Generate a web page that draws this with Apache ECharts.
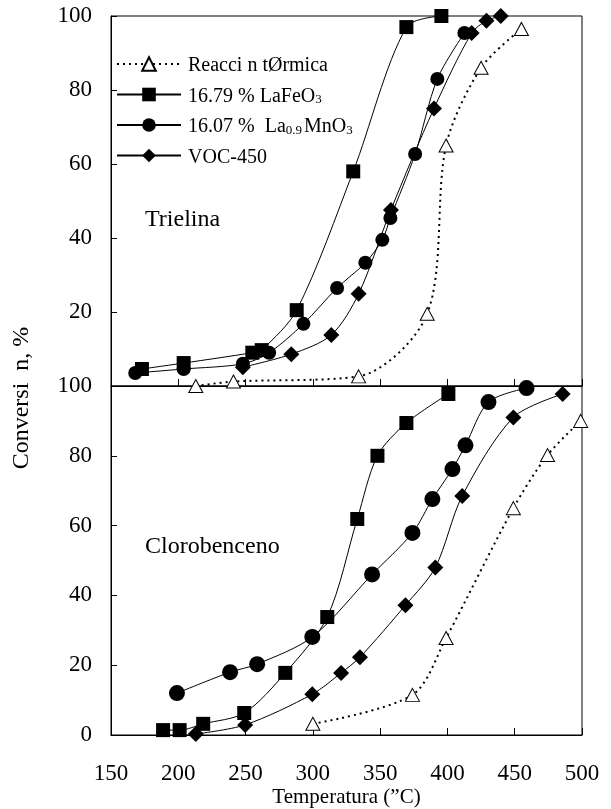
<!DOCTYPE html>
<html><head><meta charset="utf-8">
<script src="https://cdn.jsdelivr.net/npm/echarts@6/dist/echarts.min.js"></script>
<style>html,body{margin:0;padding:0;background:#fff}#c{width:611px;height:809px}</style>
</head><body><div id="c"></div><script>
// Axis ticks
const xTicks = [150, 200, 250, 300, 350, 400, 450, 500];
const yTicks = [0, 20, 40, 60, 80, 100];
const seriesNames = ['Reacci n tØrmica', '16.79 % LaFeO3', '16.07 % La0.9MnO3', 'VOC-450'];
const panelLabels = ['Trielina', 'Clorobenceno'];
const yTitle = 'Conversi  n, %';
const xTitle = 'Temperatura (”C)';

// Trielina panel [T, conversion]
const triThermal = [[213,0],[241,1.2],[334,2.6],[385,19.5],[399,65],[425,86],[455,96.5]];
const triLaFeO3 = [[173,4.6],[204,6.2],[255,9],[262,9.7],[288,20.5],[330,58],[369.5,97],[395.5,100]];
const triLaMnO3 = [[168,3.5],[204,4.6],[248,6],[267.5,9],[293,16.8],[318,26.5],[339,33.3],[351.6,39.5],[357.6,45.4],[376,62.7],[392.5,83],[412.6,95.4]];
const triVOC = [[248,5.1],[284,8.6],[313.7,13.8],[334,24.9],[358,47.6],[390,75],[418,95.4],[429,98.7],[439.6,100]];

// Clorobenceno panel [T, conversion]
const cloThermal = [[300,3.2],[374,11.5],[399,27.8],[449,65],[474.4,80.2],[499,90]];
const cloLaFeO3 = [[188.7,1.4],[201,1.4],[218.5,3.2],[249,6.3],[279.5,17.8],[310.7,33.8],[333,61.9],[348,80],[369.5,89.4],[400.7,97.7]];
const cloLaMnO3 = [[199,12],[238.5,18],[258.6,20.3],[299.6,28.1],[344,46],[374,57.9],[388.8,67.6],[403.7,76.2],[413.4,83],[430.5,95.4],[458.8,99.4]];
const cloVOC = [[213,0.3],[249.7,2.9],[299.6,11.7],[321,17.8],[335,22.3],[368.8,37.2],[391,48],[411,68.5],[449,91],[485.6,97.7]];

const FONT = '"Liberation Serif", "Times New Roman", serif';
const chart = echarts.init(document.getElementById('c'), null, {renderer: 'canvas'});

function xAxisCfg(gi, showLabels) {
  return {
    type: 'value', gridIndex: gi, min: xTicks[0], max: xTicks[xTicks.length - 1], interval: 50,
    axisLine: {show: true, onZero: false, lineStyle: {color: '#000', width: 1}},
    axisTick: {show: true, inside: true, length: 7, lineStyle: {color: '#000'}},
    axisLabel: {show: showLabels, color: '#000', fontFamily: FONT, fontSize: 23, margin: 27},
    splitLine: {show: false},
    name: showLabels ? xTitle : '', nameLocation: 'middle', nameGap: 52,
    nameTextStyle: {color: '#000', fontFamily: FONT, fontSize: 21}
  };
}
function yAxisCfg(gi, hideZero) {
  return {
    type: 'value', gridIndex: gi, min: yTicks[0], max: yTicks[yTicks.length - 1], interval: 20,
    axisLine: {show: true, onZero: false, lineStyle: {color: '#000', width: 1}},
    axisTick: {show: true, inside: true, length: 6, lineStyle: {color: '#000'}},
    axisLabel: {color: '#000', fontFamily: FONT, fontSize: 23, margin: 19,
      formatter: v => (hideZero && v === 0) ? '' : String(v)},
    splitLine: {show: false}
  };
}
function lineSeries(name, data, gi, symbol, size, isThermal) {
  const s = {
    name: name, type: 'line', xAxisIndex: gi, yAxisIndex: gi, data: data,
    smooth: 0.3, symbol: symbol, symbolSize: size, showSymbol: true,
    lineStyle: {color: '#000', width: 1},
    itemStyle: {color: '#000', borderColor: '#000', borderWidth: 0},
    emphasis: {disabled: true}, animation: false, z: isThermal ? 3 : 2
  };
  if (isThermal) {
    s.lineStyle = {color: '#000', width: 2, type: [2, 4]};
    s.itemStyle = {color: '#fff', borderColor: '#000', borderWidth: 1};
  }
  return s;
}

const option = {
  backgroundColor: '#fff',
  animation: false,
  grid: [
    {left: 111, top: 16, width: 471, height: 370, show: true, borderColor: '#000', borderWidth: 1, backgroundColor: 'transparent', containLabel: false, outerBoundsMode: 'none'},
    {left: 111, top: 386, width: 471, height: 349, show: true, borderColor: '#000', borderWidth: 1, backgroundColor: 'transparent', containLabel: false, outerBoundsMode: 'none'}
  ],
  xAxis: [xAxisCfg(0, false), xAxisCfg(1, true)],
  yAxis: [yAxisCfg(0, true), yAxisCfg(1, false)],
  legend: {
    data: seriesNames, orient: 'vertical', left: 116, top: 56,
    itemWidth: 64, itemHeight: 17, itemGap: 10.5,
    selectedMode: false, padding: 0,
    textStyle: {color: '#000', fontFamily: FONT, fontSize: 20,
      rich: {
        n: {fontFamily: FONT, fontSize: 20, color: '#000', lineHeight: 24, verticalAlign: 'bottom', padding: [0, 0, 0, 2]},
        s: {fontFamily: FONT, fontSize: 13, color: '#000', lineHeight: 12, verticalAlign: 'bottom'}
      }},
    formatter: function (name) {
      if (name === seriesNames[1]) return '{n|16.79 % LaFeO}{s|3}';
      if (name === seriesNames[2]) return '{n|16.07 %  La}{s|0.9}{n|MnO}{s|3}';
      return '{n|' + name + '}';
    }
  },
  graphic: [
    {type: 'text', left: 145, top: 208, silent: true, style: {text: panelLabels[0], fill: '#000', font: '24px ' + FONT}},
    {type: 'text', left: 145, top: 535, silent: true, style: {text: panelLabels[1], fill: '#000', font: '24px ' + FONT}},
    {type: 'text', x: 22, y: 398, rotation: Math.PI / 2, silent: true,
      style: {text: yTitle, fill: '#000', font: '24px ' + FONT, align: 'center', verticalAlign: 'middle'}}
  ],
  series: [
    lineSeries(seriesNames[0], triThermal, 0, 'triangle', [14, 13], true),
    lineSeries(seriesNames[1], triLaFeO3, 0, 'rect', 14, false),
    lineSeries(seriesNames[2], triLaMnO3, 0, 'circle', 14, false),
    lineSeries(seriesNames[3], triVOC, 0, 'diamond', 16, false),
    lineSeries(seriesNames[0], cloThermal, 1, 'triangle', [14, 13], true),
    lineSeries(seriesNames[1], cloLaFeO3, 1, 'rect', 14, false),
    lineSeries(seriesNames[2], cloLaMnO3, 1, 'circle', 16, false),
    lineSeries(seriesNames[3], cloVOC, 1, 'diamond', 16, false)
  ]
};
chart.setOption(option);
</script></body></html>
